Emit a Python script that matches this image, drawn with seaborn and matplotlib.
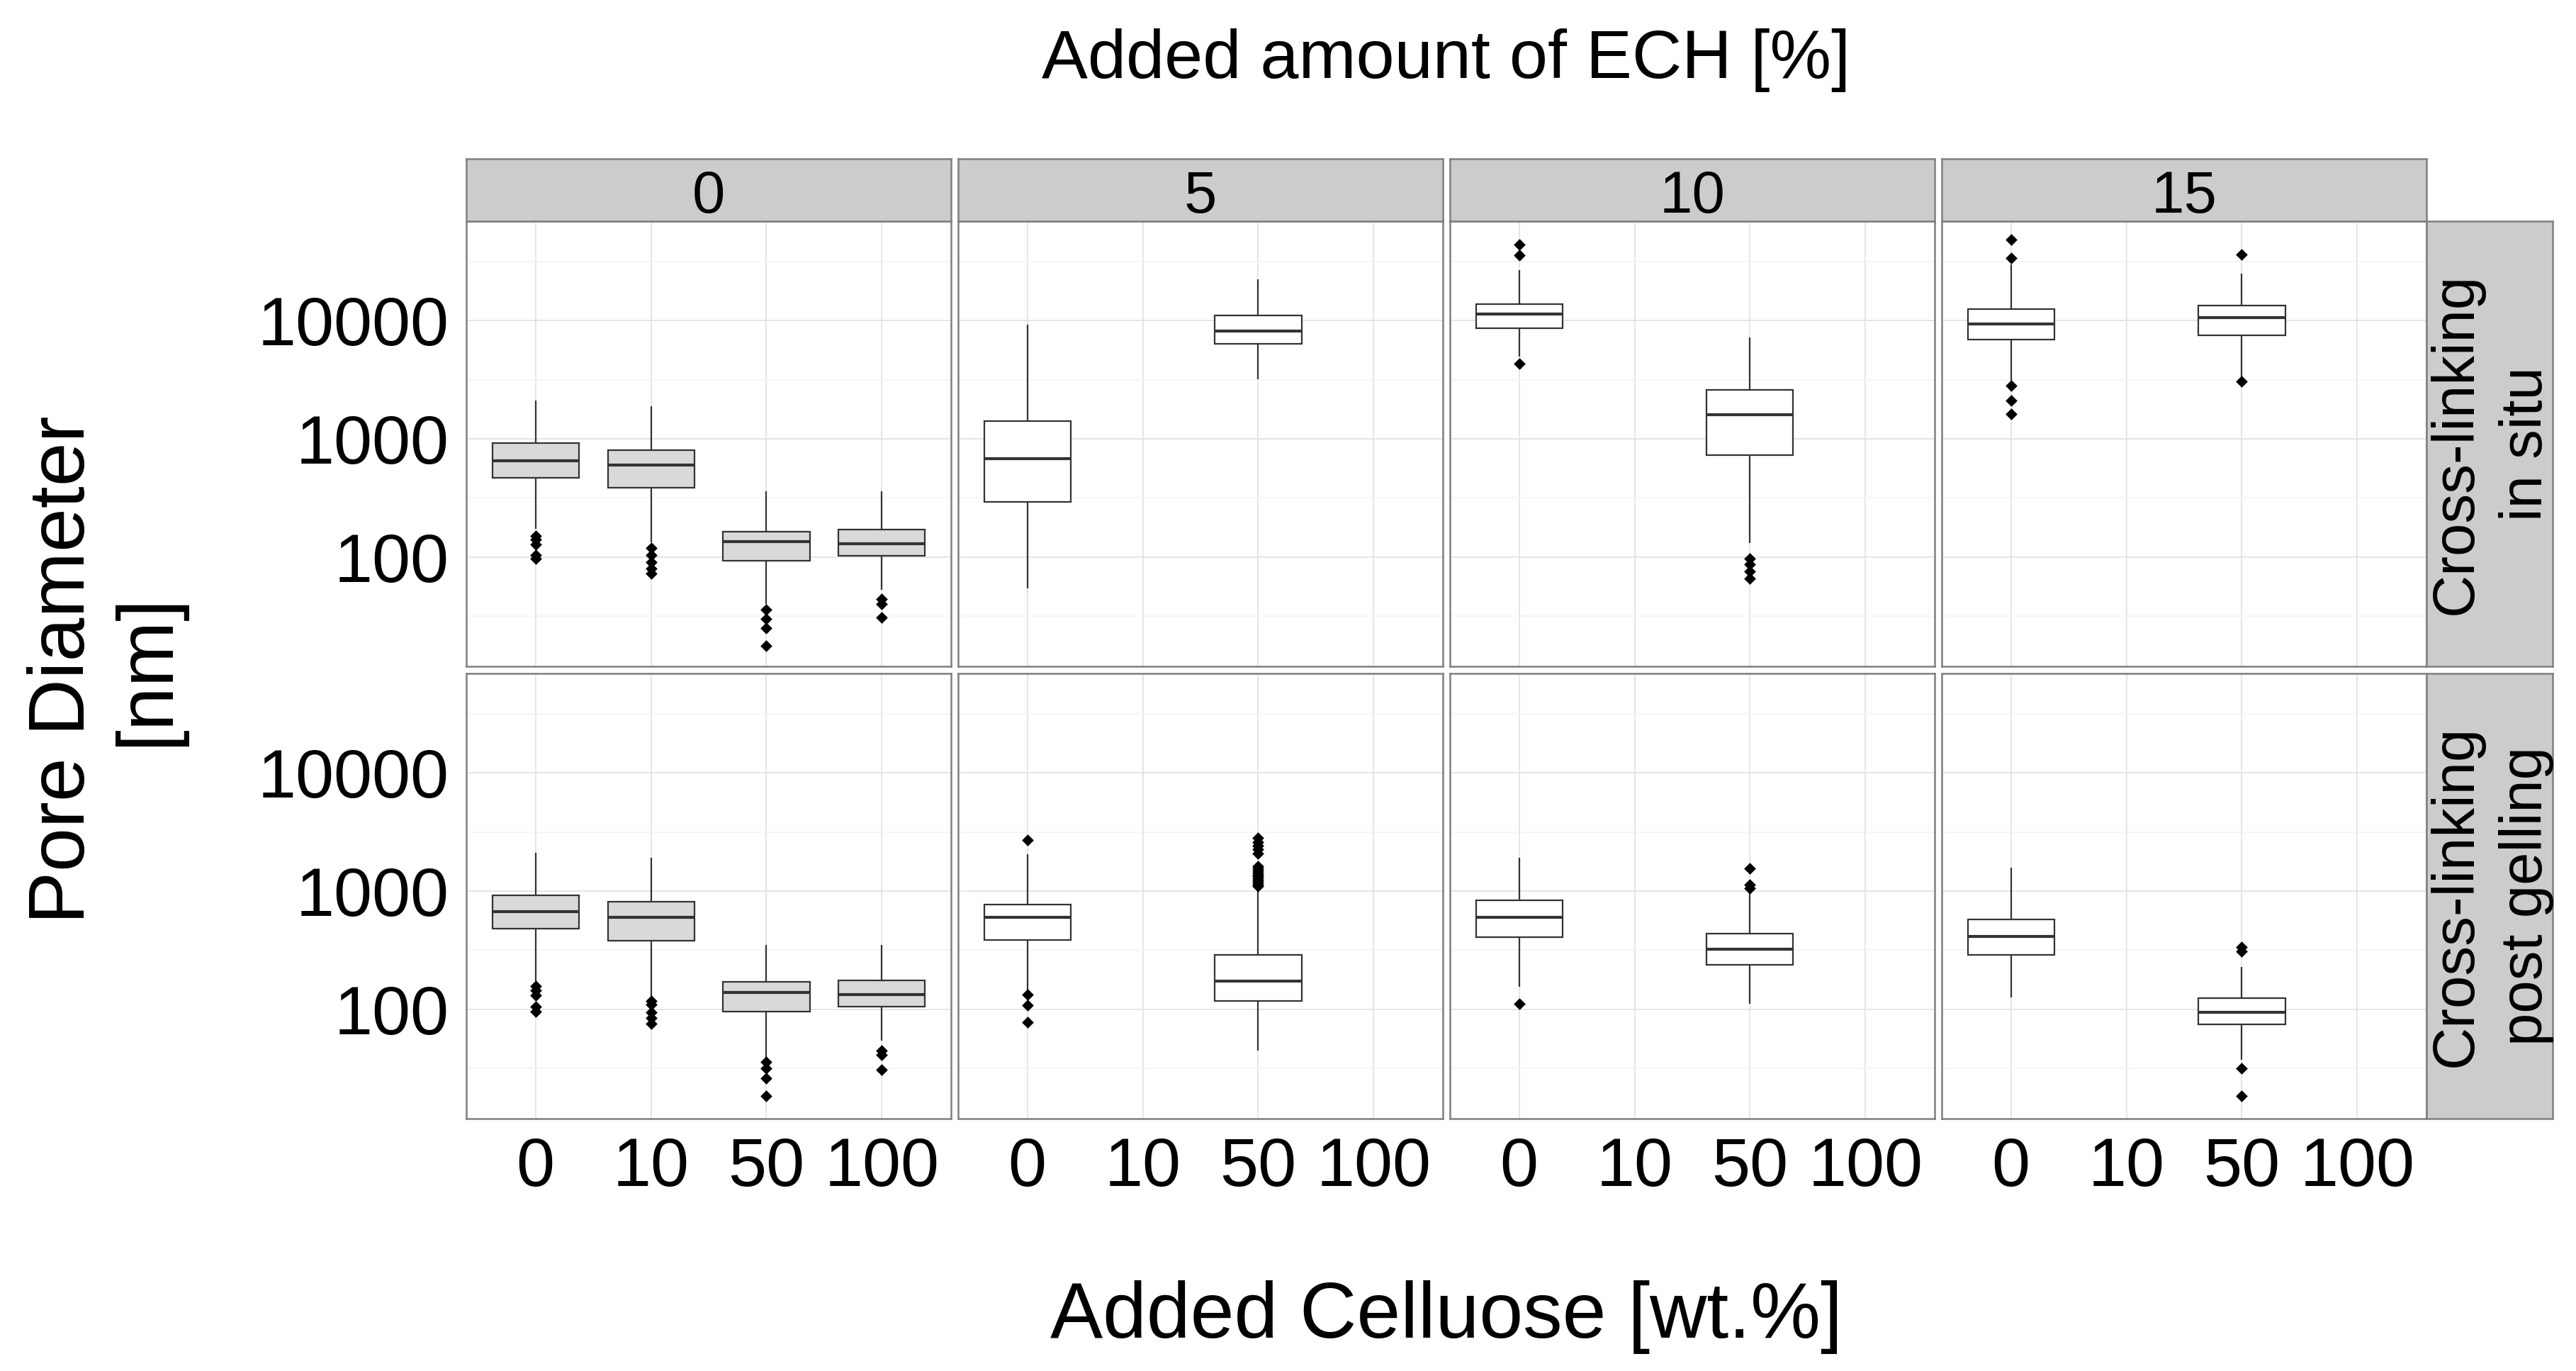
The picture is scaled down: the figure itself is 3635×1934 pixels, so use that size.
import numpy as np
import pandas as pd
import matplotlib
matplotlib.use("Agg")
import matplotlib.pyplot as plt
from matplotlib.ticker import FixedLocator, NullFormatter
import seaborn as sns

# ---------------- data ----------------
cellulose_levels = ["0", "10", "50", "100"]
ech_levels = ["0", "5", "10", "15"]
method_levels = ["in situ", "post gelling"]
method_labels = ["Cross-linking\nin situ", "Cross-linking\npost gelling"]

# five-number summaries of each box (log-scale readings, nm)
box_method = ["in situ"] * 10 + ["post gelling"] * 10
box_ech = ["0", "0", "0", "0", "5", "5", "10", "10", "15", "15"] * 2
box_cellulose = ["0", "10", "50", "100", "0", "50", "0", "50", "0", "50"] * 2
whisker_low = [174, 134, 40, 53, 54, 3180, 4930, 131, 3110, 3340,
               174, 128, 39, 54, 144, 45, 156, 111, 126, 37.5]
quartile_1 = [468, 386, 93, 102, 291, 6400, 8560, 730, 6870, 7540,
              478, 381, 96, 106, 385, 117, 405, 239, 289, 75]
median = [656, 598, 135, 130, 675, 8200, 11300, 1590, 9310, 10590,
          670, 603, 138, 134, 603, 173, 603, 323, 415, 95]
quartile_3 = [916, 800, 165, 171, 1419, 11000, 13700, 2590, 12540, 13360,
              927, 815, 171, 175, 766, 289, 840, 436, 574, 124]
whisker_high = [2110, 1897, 360, 360, 9190, 22400, 26900, 7180, 29900, 25100,
                2110, 1920, 351, 351, 2040, 1060, 1920, 998, 1580, 229]

# outliers per box
out_method = ["in situ"] * 8 + ["post gelling"] * 9
out_ech = ["0", "0", "0", "0", "10", "10", "15", "15",
           "0", "0", "0", "0", "5", "5", "10", "10", "15"]
out_cellulose = ["0", "10", "50", "100", "0", "50", "0", "50",
                 "0", "10", "50", "100", "0", "50", "0", "50", "50"]
out_values = [
    [150, 140, 128, 104, 97],
    [120, 104, 91, 80, 73],
    [36, 30, 25, 17.8],
    [44, 40, 31],
    [44100, 35700, 4340],
    [97, 87, 76, 66],
    [48400, 34000, 2800, 2110, 1620],
    [36000, 3070],
    [158, 145, 132, 106, 96],
    [118, 110, 94, 84, 76],
    [36, 31.6, 26, 18.5],
    [45, 41, 31],
    [2710, 134, 108, 78],
    [2830, 2600, 2430, 2250, 2080, 1630, 1560, 1500, 1440, 1380, 1330,
     1280, 1230, 1180, 1140, 1100],
    [111],
    [1550, 1130, 1050],
    [338, 310, 31.6, 18.5],
]

y_ticks = [100, 1000, 10000]
y_tick_labels = ["100", "1000", "10000"]

# ---------------- frames ----------------
rows = []
for m, e, c, lo, a, md, b, hi in zip(box_method, box_ech, box_cellulose,
                                     whisker_low, quartile_1, median,
                                     quartile_3, whisker_high):
    for v in (lo, a, md, b, hi):
        rows.append(dict(method=m, ech=e, cellulose=c, diameter=v))
box_df = pd.DataFrame(rows)

orows = []
for m, e, c, vals in zip(out_method, out_ech, out_cellulose, out_values):
    for v in vals:
        orows.append(dict(method=m, ech=e, cellulose=c, diameter=v))
out_df = pd.DataFrame(orows)

# ---------------- style ----------------
sns.set_style("white")
plt.rcParams["font.family"] = ["Liberation Sans", "DejaVu Sans"]
plt.rcParams["text.color"] = "black"
plt.rcParams["axes.labelcolor"] = "black"
plt.rcParams["xtick.color"] = "black"
plt.rcParams["ytick.color"] = "black"

W, H, DPI = 3635, 1934, 100
fig = plt.figure(figsize=(W / DPI, H / DPI), dpi=DPI)


def add_px(left, top, width, height):
    return fig.add_axes([left / W, 1 - (top + height) / H, width / W, height / H])


col_left = [658, 1352, 2046, 2740]
panel_w = 684
row_top = [312, 950]
panel_h = 628
strip_top, strip_h = 224, 88
rstrip_left, rstrip_w = 3424, 178

border = "#7F7F7F"
line_col = "#333333"
major_grid = "#E3E3E3"
minor_grid = "#F4F4F4"
ylims = (11.9, 69300)
minor_y = [10 ** 1.5, 10 ** 2.5, 10 ** 3.5, 10 ** 4.5]

for r, meth in enumerate(method_levels):
    for c, ech in enumerate(ech_levels):
        ax = add_px(col_left[c], row_top[r], panel_w, panel_h)
        ax.set_yscale("log")
        fill = "#D9D9D9" if ech == "0" else "white"
        sub = box_df[(box_df.method == meth) & (box_df.ech == ech)]
        sns.boxplot(data=sub, x="cellulose", y="diameter", order=cellulose_levels,
                    whis=np.inf, width=0.75, color=fill, saturation=1,
                    linecolor=line_col, linewidth=1.6, log_scale=True,
                    showcaps=False, medianprops=dict(linewidth=3.0),
                    ax=ax)
        osub = out_df[(out_df.method == meth) & (out_df.ech == ech)]
        if len(osub):
            sns.stripplot(data=osub, x="cellulose", y="diameter",
                          order=cellulose_levels, jitter=False, marker="D",
                          color="black", size=8.5, linewidth=0,
                          log_scale=True, ax=ax, zorder=3)
        ax.set_xlim(-0.6, 3.6)
        ax.set_ylim(*ylims)
        ax.set_xlabel("")
        ax.set_ylabel("")
        ax.yaxis.set_major_locator(FixedLocator(y_ticks))
        ax.yaxis.set_minor_locator(FixedLocator(minor_y))
        ax.yaxis.set_minor_formatter(NullFormatter())
        ax.set_axisbelow(True)
        ax.grid(True, which="major", axis="both", color=major_grid, linewidth=1.3)
        ax.grid(True, which="minor", axis="y", color=minor_grid, linewidth=1.2)
        for s in ax.spines.values():
            s.set_visible(True)
            s.set_color(border)
            s.set_linewidth(1.8)
        ax.tick_params(axis="both", which="minor", length=0)
        ax.tick_params(axis="both", which="major", length=9.5, width=1.3,
                       color="#222222", labelsize=70, labelcolor="black")
        ax.tick_params(axis="x", pad=8.5)
        ax.tick_params(axis="y", pad=8)
        if c == 0:
            ax.set_yticks(y_ticks)
            ax.set_yticklabels(y_tick_labels)
        else:
            ax.tick_params(axis="y", which="both", left=False, labelleft=False)
        if r == 1:
            ax.set_xticks(range(len(cellulose_levels)))
            ax.set_xticklabels(cellulose_levels)
        else:
            ax.tick_params(axis="x", which="both", bottom=False, labelbottom=False)

# top strips
for c, ech in enumerate(ech_levels):
    sax = add_px(col_left[c], strip_top, panel_w, strip_h)
    sax.set_facecolor("#CCCCCC")
    sax.set_xticks([])
    sax.set_yticks([])
    for s in sax.spines.values():
        s.set_color(border)
        s.set_linewidth(1.8)
    fig.text((col_left[c] + panel_w / 2) / W, 1 - 300 / H, ech, ha="center",
             va="baseline", fontsize=60)

# right strips
for r, lab in enumerate(method_labels):
    sax = add_px(rstrip_left, row_top[r], rstrip_w, panel_h)
    sax.set_facecolor("#CCCCCC")
    sax.set_xticks([])
    sax.set_yticks([])
    for s in sax.spines.values():
        s.set_color(border)
        s.set_linewidth(1.8)
    fig.text(3515 / W, 1 - (row_top[r] + panel_h / 2) / H, lab, rotation=90,
             rotation_mode="anchor", ha="center", va="center",
             multialignment="center", fontsize=60, linespacing=1.35)

# titles
center_x = (col_left[0] + col_left[-1] + panel_w) / 2
fig.text(center_x / W, 1 - 110 / H, "Added amount of ECH [%]", ha="center",
         va="baseline", fontsize=70)
fig.text(center_x / W, 1 - 1887 / H, "Added Celluose [wt.%]", ha="center",
         va="baseline", fontsize=80)
fig.text(149 / W, 1 - 945 / H, "Pore Diameter\n[nm]", rotation=90,
         rotation_mode="anchor", ha="center", va="center",
         multialignment="center", fontsize=80, linespacing=1.18)

fig.savefig("out.png", dpi=DPI, facecolor="white")
